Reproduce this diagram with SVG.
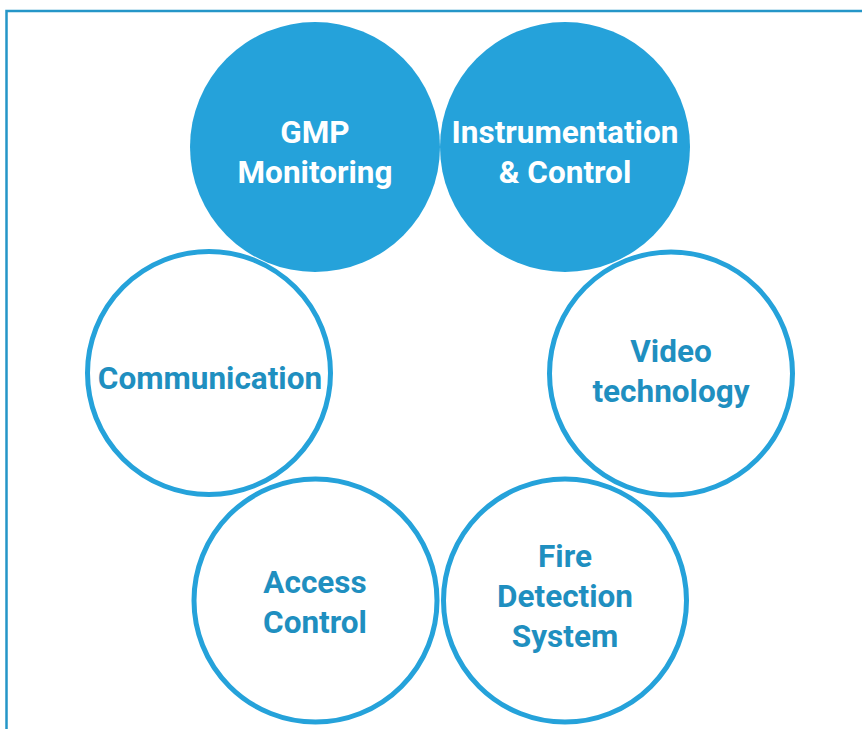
<svg xmlns="http://www.w3.org/2000/svg" width="862" height="729" viewBox="0 0 862 729">
  <style>
    .filled { fill: #25a2da; }
    .ring { fill: none; stroke: #25a2da; stroke-width: 5; }
    .lbl { font-family: Roboto, "Liberation Sans", sans-serif; font-weight: bold; font-size: 31.5px; text-anchor: middle; }
    .w { fill: #ffffff; }
    .b { fill: #1f8fc0; }
    .frame { stroke: #2596c8; stroke-width: 2.5; fill: none; }
  </style>
  <rect width="862" height="729" fill="#ffffff"/>
  <path class="frame" d="M6.5 729 V11 H862"/>
  <g id="connectors"></g>
  <g id="communication">
    <circle class="ring" cx="209" cy="373" r="121.5"/>
    <text class="lbl b" x="210" y="389">Communication</text>
  </g>
  <g id="video-technology">
    <circle class="ring" cx="671" cy="373.5" r="121.5"/>
    <text class="lbl b" x="671" y="362">Video</text>
    <text class="lbl b" x="671" y="402">technology</text>
  </g>
  <g id="access-control">
    <circle class="ring" cx="315.5" cy="600.5" r="121.5"/>
    <text class="lbl b" x="315" y="593">Access</text>
    <text class="lbl b" x="315" y="633">Control</text>
  </g>
  <g id="fire-detection-system">
    <circle class="ring" cx="565" cy="600.5" r="121.5"/>
    <text class="lbl b" x="565" y="567">Fire</text>
    <text class="lbl b" x="565" y="607">Detection</text>
    <text class="lbl b" x="565" y="647">System</text>
  </g>
  <g id="gmp-monitoring">
    <circle class="filled" cx="315" cy="147" r="125"/>
    <text class="lbl w" x="315" y="143">GMP</text>
    <text class="lbl w" x="315" y="183">Monitoring</text>
  </g>
  <g id="instrumentation-control">
    <circle class="filled" cx="565" cy="147" r="125"/>
    <text class="lbl w" x="565" y="143">Instrumentation</text>
    <text class="lbl w" x="565" y="183">&amp; Control</text>
  </g>
</svg>
